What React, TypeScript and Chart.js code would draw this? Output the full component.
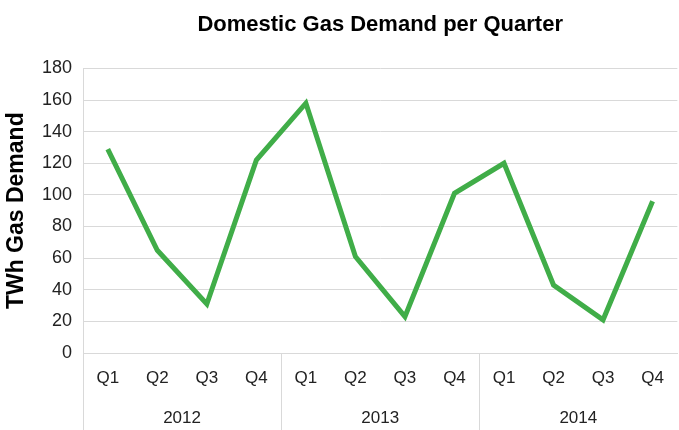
import React, { useEffect, useRef } from "react";
import { Chart, registerables } from "chart.js";

Chart.register(...registerables);

const quarters = ["Q1", "Q2", "Q3", "Q4", "Q1", "Q2", "Q3", "Q4", "Q1", "Q2", "Q3", "Q4"];
const years = ["2012", "2013", "2014"];
const demand = [129, 65, 31, 122, 158, 61, 23, 101, 120, 43, 21, 96];
const quartersPerYear = 4;

const FONT = "'Liberation Sans', Arial, Helvetica, sans-serif";
const GRID = "#d9d9d9";

const separatorPlugin = {
  id: "yearSeparators",
  afterDraw(chart: any) {
    const xs = chart.scales.x;
    const ctx = chart.ctx;
    const half = (xs.getPixelForValue(1) - xs.getPixelForValue(0)) / 2;
    ctx.save();
    ctx.strokeStyle = GRID;
    ctx.lineWidth = 1;
    for (let i = 0; i < years.length; i++) {
      const px = Math.round(xs.getPixelForValue(i * quartersPerYear) - half) + 0.5;
      ctx.beginPath();
      ctx.moveTo(px, xs.top);
      ctx.lineTo(px, chart.height);
      ctx.stroke();
    }
    ctx.restore();
  },
};

export default function App() {
  const ref = useRef<HTMLCanvasElement>(null);
  useEffect(() => {
    document.body.style.margin = "0";
    const chart = new Chart(ref.current as HTMLCanvasElement, {
      type: "line",
      data: {
        labels: quarters,
        datasets: [
          {
            data: demand,
            borderColor: "#40ad48",
            backgroundColor: "#40ad48",
            borderWidth: 5,
            pointRadius: 0,
            tension: 0,
            xAxisID: "x",
          },
        ],
      },
      plugins: [separatorPlugin],
      options: {
        animation: false,
        responsive: false,
        maintainAspectRatio: false,
        layout: { padding: { left: 2, right: 1, top: 0, bottom: 2 } },
        plugins: {
          legend: { display: false },
          tooltip: { enabled: false },
          title: {
            display: true,
            text: "Domestic Gas Demand per Quarter",
            fullSize: false,
            color: "#000",
            font: { family: FONT, size: 22, weight: "bold" },
            padding: { top: 12, bottom: 30 },
          },
        },
        scales: {
          x: {
            type: "category",
            offset: true,
            grid: { display: true, drawOnChartArea: false, drawTicks: false },
            border: { display: true, color: GRID, width: 1 },
            ticks: {
              color: "#222",
              font: { family: FONT, size: 17 },
              padding: 15,
              maxRotation: 0,
              autoSkip: false,
            },
            afterFit: (s: any) => {
              s.height = 36;
            },
          },
          x2: {
            type: "category",
            labels: years,
            position: "bottom",
            offset: true,
            grid: { display: false, drawTicks: false },
            border: { display: false },
            ticks: {
              color: "#222",
              font: { family: FONT, size: 17 },
              padding: 19,
              maxRotation: 0,
              autoSkip: false,
            },
            afterFit: (s: any) => {
              s.height = 39;
            },
          },
          y: {
            min: 0,
            max: 180,
            ticks: {
              stepSize: 20,
              color: "#222",
              font: { family: FONT, size: 18 },
              padding: 11,
            },
            grid: { color: GRID, lineWidth: 1, drawTicks: false },
            border: { display: true, color: GRID, width: 1 },
            title: {
              display: true,
              text: "TWh Gas Demand",
              color: "#000",
              font: { family: FONT, size: 23, weight: "bold" },
              padding: { top: 1, bottom: 10 },
            },
            afterFit: (s: any) => {
              s.width = 81;
            },
          },
        },
      },
    });
    return () => chart.destroy();
  }, []);
  return (
    <div style={{ width: 679, height: 430 }}>
      <canvas ref={ref} width={679} height={430} style={{ display: "block" }} />
    </div>
  );
}
